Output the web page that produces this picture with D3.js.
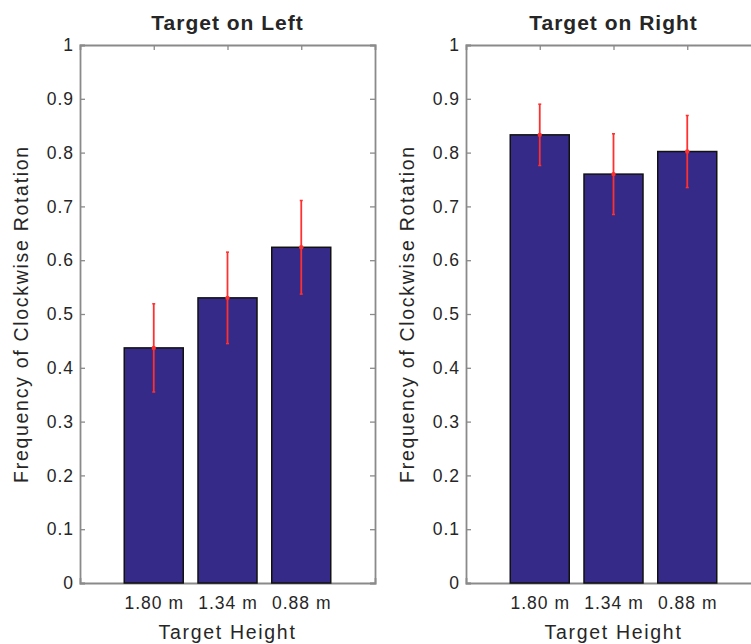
<!DOCTYPE html>
<html>
<head>
<meta charset="utf-8">
<script src="https://cdn.jsdelivr.net/npm/d3@7"></script>
<style>
  html, body { margin: 0; padding: 0; background: #fff; }
  svg { display: block; }
  text { font-family: "Liberation Sans", Arial, Helvetica, sans-serif; fill: #262626; }
</style>
</head>
<body>
<svg id="chart" width="751" height="644"></svg>
<script>
// ---- data ----
const categories = ["1.80 m", "1.34 m", "0.88 m"];
const leftValues = [0.437, 0.530, 0.624];
const leftErrors = [0.082, 0.085, 0.087];
const rightValues = [0.833, 0.760, 0.802];
const rightErrors = [0.057, 0.075, 0.067];
const yTicks = [0, 0.1, 0.2, 0.3, 0.4, 0.5, 0.6, 0.7, 0.8, 0.9, 1];
const titles = ["Target on Left", "Target on Right"];
const xLabel = "Target Height";
const yLabel = "Frequency of Clockwise Rotation";

const panels = [
  { title: titles[0], values: leftValues, errors: leftErrors, x0: 80 },
  { title: titles[1], values: rightValues, errors: rightErrors, x0: 466 }
];

const svg = d3.select("#chart");
const axisColor = "#8a8a8a";
const barColor = "#352a87";
const errColor = "#ff3030";
const plotTop = 45, plotBottom = 583, panelW = 295;

const y = d3.scaleLinear().domain([0, 1]).range([plotBottom, plotTop]);

panels.forEach(p => {
  const g = svg.append("g");
  // numeric x scale like MATLAB: xlim [0, 4], categories at 1..3
  const x = d3.scaleLinear().domain([0, 4]).range([p.x0, p.x0 + panelW]);
  const bw = x(0.8) - x(0);

  // axes
  const yAxisL = d3.axisLeft(y).tickValues(yTicks).tickSize(-5).tickPadding(6)
    .tickFormat(d => String(+d.toFixed(1)));
  const gyl = g.append("g").attr("transform", `translate(${p.x0},0)`).call(yAxisL);
  const yAxisR = d3.axisRight(y).tickValues(yTicks).tickSize(-5).tickFormat("");
  const gyr = g.append("g").attr("transform", `translate(${p.x0 + panelW},0)`).call(yAxisR);
  const xAxisB = d3.axisBottom(x).tickValues([1, 2, 3]).tickSize(-5).tickPadding(14)
    .tickFormat(d => categories[d - 1]);
  const gxb = g.append("g").attr("transform", `translate(0,${plotBottom})`).call(xAxisB);
  const xAxisT = d3.axisTop(x).tickValues([1, 2, 3]).tickSize(-5).tickFormat("");
  const gxt = g.append("g").attr("transform", `translate(0,${plotTop})`).call(xAxisT);

  [gyl, gyr, gxb, gxt].forEach(a => {
    a.select(".domain").attr("stroke", axisColor).attr("stroke-width", 1.8);
    a.selectAll(".tick line").attr("stroke", axisColor).attr("stroke-width", 1.3);
    a.selectAll("text").attr("fill", "#262626")
      .style("font-size", "17.5px").style("letter-spacing", "1px")
      .style("font-family", "'Liberation Sans', Arial, sans-serif");
  });

  // bars
  g.selectAll("rect.bar").data(p.values).join("rect")
    .attr("class", "bar")
    .attr("x", (d, i) => x(i + 1) - bw / 2)
    .attr("width", bw)
    .attr("y", d => y(d))
    .attr("height", d => y(0) - y(d))
    .attr("fill", barColor)
    .attr("stroke", "#111")
    .attr("stroke-width", 1.5);

  // error bars
  const eb = g.selectAll("g.err").data(p.values).join("g").attr("class", "err");
  eb.append("line")
    .attr("x1", (d, i) => x(i + 1)).attr("x2", (d, i) => x(i + 1))
    .attr("y1", (d, i) => y(d - p.errors[i]))
    .attr("y2", (d, i) => y(d + p.errors[i]))
    .attr("stroke", errColor).attr("stroke-width", 1.8);
  [-1, 1].forEach(s => {
    eb.append("line")
      .attr("x1", (d, i) => x(i + 1) - 1.5).attr("x2", (d, i) => x(i + 1) + 1.5)
      .attr("y1", (d, i) => y(d + s * p.errors[i]))
      .attr("y2", (d, i) => y(d + s * p.errors[i]))
      .attr("stroke", errColor).attr("stroke-width", 1.5);
  });
  eb.append("circle")
    .attr("cx", (d, i) => x(i + 1))
    .attr("cy", d => y(d))
    .attr("r", 2.2)
    .attr("fill", errColor);

  // title
  g.append("text")
    .attr("x", p.x0 + panelW / 2).attr("y", 30)
    .attr("text-anchor", "middle")
    .style("font-size", "21px").style("font-weight", "bold").style("letter-spacing", "1px")
    .text(p.title);

  // x label
  g.append("text")
    .attr("x", p.x0 + panelW / 2).attr("y", 639)
    .attr("text-anchor", "middle")
    .style("font-size", "19.5px").style("letter-spacing", "1.7px")
    .text(xLabel);

  // y label
  g.append("text")
    .attr("transform", `translate(${p.x0 - 52},${(plotTop + plotBottom) / 2}) rotate(-90)`)
    .attr("text-anchor", "middle")
    .style("font-size", "19.5px").style("letter-spacing", "1.7px")
    .text(yLabel);
});
</script>
</body>
</html>
